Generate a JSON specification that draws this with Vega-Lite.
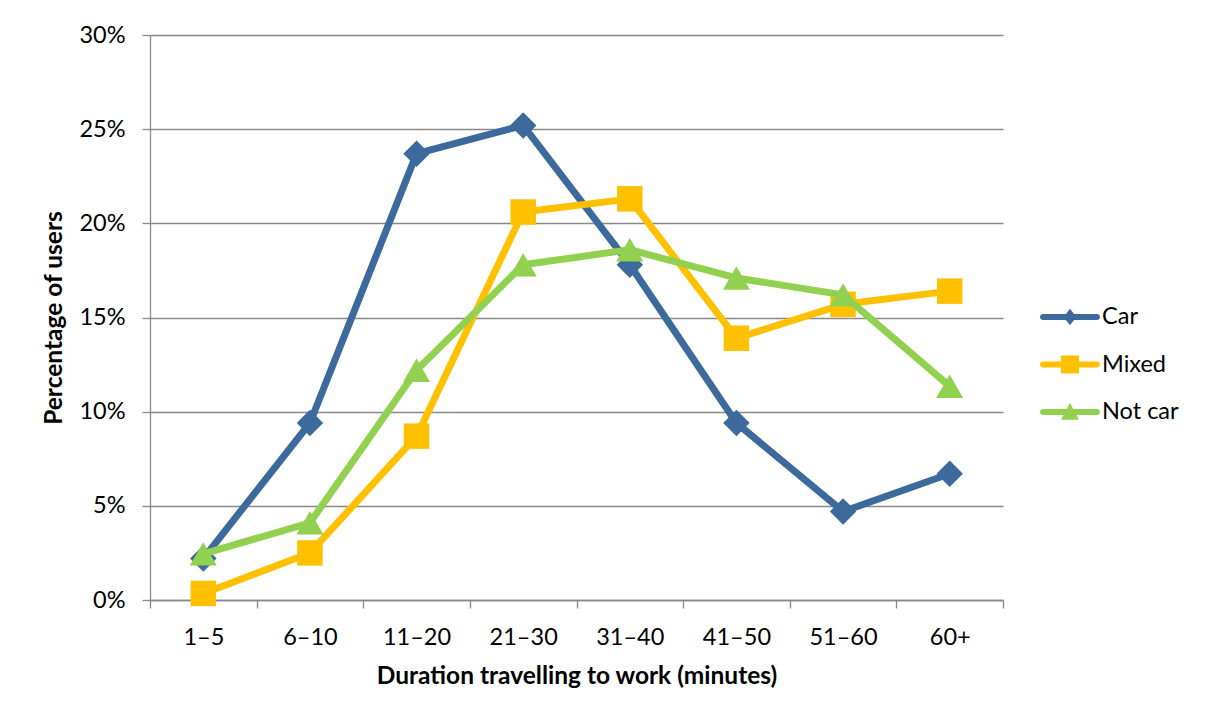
{
  "$schema": "https://vega.github.io/schema/vega-lite/v6.json",
  "width": 853,
  "height": 565,
  "autosize": {"type": "none"},
  "padding": {"left": 150, "top": 35, "right": 202, "bottom": 118},
  "background": "white",
  "config": {
    "font": "Lato",
    "view": {"stroke": null},
    "axis": {
      "labelFont": "Lato",
      "labelFontSize": 23.5,
      "labelColor": "#000000",
      "titleFont": "Lato",
      "titleFontSize": 24.5,
      "titleFontWeight": "bold",
      "titleColor": "#000000",
      "domainColor": "#898989",
      "tickColor": "#898989",
      "gridColor": "#898989",
      "domainWidth": 1.3,
      "tickWidth": 1.3,
      "gridWidth": 1.3,
      "tickSize": 8
    },
    "legend": {"labelFont": "Lato", "labelFontSize": 23.5, "labelColor": "#000000"}
  },
  "data": {
    "values": [
      {"duration": "1–5", "mode": "Car", "pct": 2.2},
      {"duration": "6–10", "mode": "Car", "pct": 9.4},
      {"duration": "11–20", "mode": "Car", "pct": 23.7},
      {"duration": "21–30", "mode": "Car", "pct": 25.2},
      {"duration": "31–40", "mode": "Car", "pct": 17.8},
      {"duration": "41–50", "mode": "Car", "pct": 9.4},
      {"duration": "51–60", "mode": "Car", "pct": 4.7},
      {"duration": "60+", "mode": "Car", "pct": 6.7},
      {"duration": "1–5", "mode": "Mixed", "pct": 0.35},
      {"duration": "6–10", "mode": "Mixed", "pct": 2.5},
      {"duration": "11–20", "mode": "Mixed", "pct": 8.7},
      {"duration": "21–30", "mode": "Mixed", "pct": 20.6},
      {"duration": "31–40", "mode": "Mixed", "pct": 21.3},
      {"duration": "41–50", "mode": "Mixed", "pct": 13.9},
      {"duration": "51–60", "mode": "Mixed", "pct": 15.7},
      {"duration": "60+", "mode": "Mixed", "pct": 16.4},
      {"duration": "1–5", "mode": "Not car", "pct": 2.45},
      {"duration": "6–10", "mode": "Not car", "pct": 4.1},
      {"duration": "11–20", "mode": "Not car", "pct": 12.2},
      {"duration": "21–30", "mode": "Not car", "pct": 17.8},
      {"duration": "31–40", "mode": "Not car", "pct": 18.6},
      {"duration": "41–50", "mode": "Not car", "pct": 17.1},
      {"duration": "51–60", "mode": "Not car", "pct": 16.2},
      {"duration": "60+", "mode": "Not car", "pct": 11.35}
    ]
  },
  "encoding": {
    "x": {
      "field": "duration",
      "type": "nominal",
      "sort": ["1–5", "6–10", "11–20", "21–30", "31–40", "41–50", "51–60", "60+"],
      "scale": {"type": "band", "paddingInner": 0, "paddingOuter": 0},
      "axis": {
        "title": "Duration travelling to work (minutes)",
        "labelAngle": 0,
        "tickBand": "extent",
        "labelPadding": 17,
        "titlePadding": 16,
        "grid": false
      }
    },
    "y": {
      "field": "pct",
      "type": "quantitative",
      "scale": {"domain": [0, 30], "nice": false},
      "axis": {
        "title": "Percentage of users",
        "values": [0, 5, 10, 15, 20, 25, 30],
        "labelExpr": "datum.value + '%'",
        "labelPadding": 17,
        "titlePadding": 12,
        "grid": true
      }
    },
    "color": {
      "field": "mode",
      "type": "nominal",
      "scale": {
        "domain": ["Car", "Mixed", "Not car"],
        "range": ["#3D6A9C", "#FFC000", "#92D050"]
      },
      "legend": {
        "title": null,
        "orient": "none",
        "legendX": 905,
        "legendY": 267,
        "symbolSize": 900,
        "labelOffset": 17,
        "rowPadding": 20.5,
        "encode": {
          "symbols": {
            "update": {
              "shape": {"signal": "datum.value === 'Car' ? 'M-1.8,-0.2H1.8A0.2,0.2 0 0 1 1.8,0.2H-1.8A0.2,0.2 0 0 1 -1.8,-0.2Z M0,-0.55L0.42,0L0,0.55L-0.42,0Z' : datum.value === 'Mixed' ? 'M-1.8,-0.2H1.8A0.2,0.2 0 0 1 1.8,0.2H-1.8A0.2,0.2 0 0 1 -1.8,-0.2Z M-0.6,-0.6H0.6V0.6H-0.6Z' : 'M-1.8,-0.2H1.8A0.2,0.2 0 0 1 1.8,0.2H-1.8A0.2,0.2 0 0 1 -1.8,-0.2Z M0,-0.62L0.6,0.52L-0.6,0.52Z'"},
              "fill": {"signal": "scale('color', datum.value)"},
              "stroke": {"value": "transparent"},
              "strokeWidth": {"value": 0},
              "opacity": {"value": 1}
            }
          }
        }
      }
    }
  },
  "layer": [
    {
      "transform": [{"filter": "datum.mode === 'Car'"}],
      "mark": {"type": "line", "strokeWidth": 7, "strokeJoin": "round"},
      "encoding": {}
    },
    {
      "transform": [{"filter": "datum.mode === 'Car'"}],
      "mark": {"type": "point", "filled": true, "opacity": 1, "size": 700, "shape": "diamond"},
      "encoding": {}
    },
    {
      "transform": [{"filter": "datum.mode === 'Mixed'"}],
      "mark": {"type": "line", "strokeWidth": 7, "strokeJoin": "round"},
      "encoding": {}
    },
    {
      "transform": [{"filter": "datum.mode === 'Mixed'"}],
      "mark": {"type": "point", "filled": true, "opacity": 1, "size": 650, "shape": "square"},
      "encoding": {}
    },
    {
      "transform": [{"filter": "datum.mode === 'Not car'"}],
      "mark": {"type": "line", "strokeWidth": 7, "strokeJoin": "round"},
      "encoding": {}
    },
    {
      "transform": [{"filter": "datum.mode === 'Not car'"}],
      "mark": {"type": "point", "filled": true, "opacity": 1, "size": 730, "shape": "triangle-up"},
      "encoding": {}
    }
  ]
}
